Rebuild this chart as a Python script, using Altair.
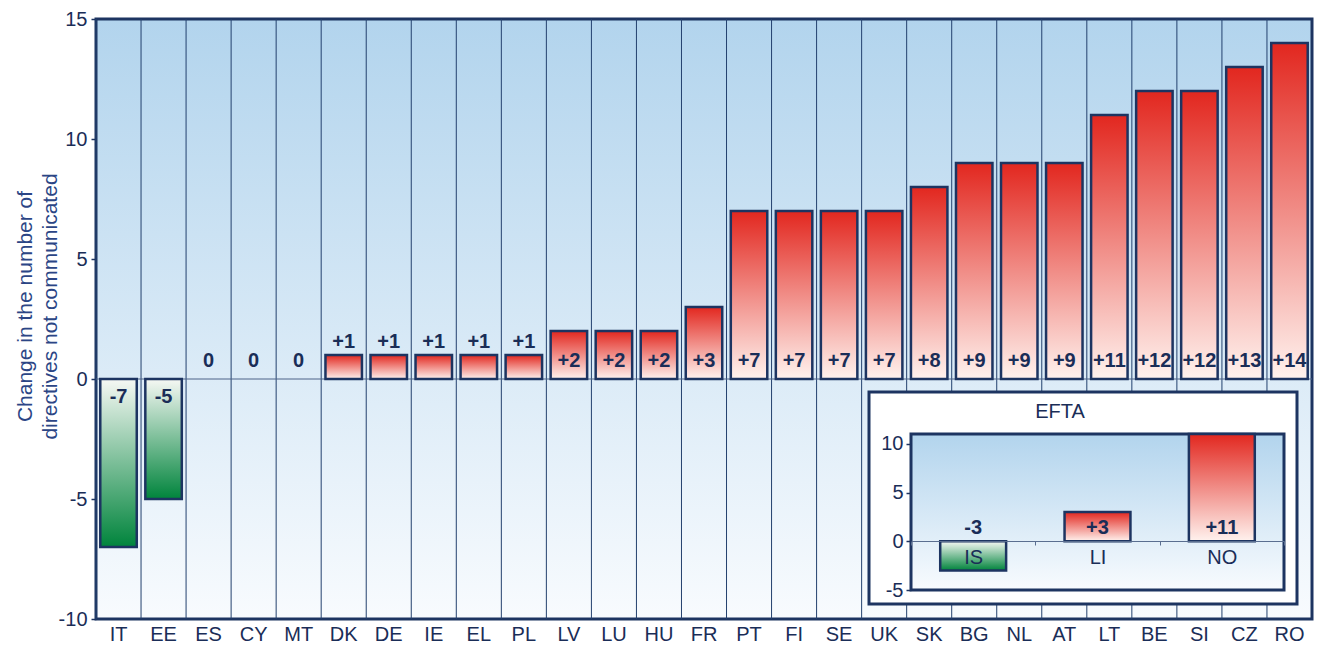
import altair as alt
import pandas as pd

countries = ["IT", "EE", "ES", "CY", "MT", "DK", "DE", "IE", "EL", "PL", "LV", "LU", "HU", "FR",
             "PT", "FI", "SE", "UK", "SK", "BG", "NL", "AT", "LT", "BE", "SI", "CZ", "RO"]
changes = [-7, -5, 0, 0, 0, 1, 1, 1, 1, 1, 2, 2, 2, 3, 7, 7, 7, 7, 8, 9, 9, 9, 11, 12, 12, 13, 14]
y_ticks = [-10, -5, 0, 5, 10, 15]

efta_countries = ["IS", "LI", "NO"]
efta_changes = [-3, 3, 11]
efta_ticks = [-5, 0, 5, 10]
efta_title = "EFTA"
y_title = ["Change in the number of", "directives not communicated"]

# layout (pixels)
W, H = 1216, 600
NAVY = "#1d3461"
TXT = "#1a2d57"
FONT = "Liberation Sans"
FS = 20

main_df = pd.DataFrame({"country": countries, "change": changes})
efta_df = pd.DataFrame({"country": efta_countries, "change": efta_changes})
one = pd.DataFrame({"k": [0]})


def vgrad(top, bottom):
    return alt.LinearGradient(
        gradient="linear", x1=0, y1=0, x2=0, y2=1,
        stops=[alt.GradientStop(color=top, offset=0), alt.GradientStop(color=bottom, offset=1)],
    )


bg_grad = vgrad("#b2d4ed", "#f8fbfe")
red_grad = vgrad("#e2271f", "#fff2ee")
green_grad = vgrad("#f6f8f4", "#00843c")

label_expr = "datum.change > 0 ? '+' + datum.change : '' + datum.change"
tick_expr = "'' + datum.value"

x_axis = alt.Axis(title=None, labelFontSize=FS, labelColor=TXT, labelFont=FONT, ticks=False,
                  domain=False, grid=False, labelPadding=5, labelAngle=0)
y_axis = alt.Axis(title=y_title, values=y_ticks, labelExpr=tick_expr, labelFontSize=FS, labelColor=TXT,
                  labelFont=FONT, tickSize=5, tickColor=NAVY, tickWidth=1.5, domain=False, grid=False,
                  labelPadding=4, titleFontSize=21, titleFont=FONT, titleFontWeight="normal",
                  titleColor="#2b4585", titleX=-61, titleY=287, titleLineHeight=25)

x_scale = alt.Scale(domain=countries, paddingInner=0, paddingOuter=0)
y_scale = alt.Scale(domain=[-10, 15], nice=False, zero=False)


def mx(**kw):
    return alt.X("country:N", sort=countries, scale=x_scale, axis=x_axis, **kw)


def my(field="change:Q"):
    return alt.Y(field, scale=y_scale, axis=y_axis)


background = alt.Chart(one).mark_rect(fill=bg_grad, stroke=NAVY, strokeWidth=3).encode(
    x=alt.value(0), x2=alt.value(W), y=alt.value(0), y2=alt.value(H)
)

grid = alt.Chart(main_df).mark_rule(color="#23406e", strokeWidth=1).encode(x=mx(bandPosition=0))

zero = alt.Chart(one).mark_rule(color="#4d6288", strokeWidth=1).encode(
    y=alt.Y(datum=0, scale=y_scale, axis=y_axis)
)

bars_pos = alt.Chart(main_df).transform_filter("datum.change > 0").mark_bar(
    width=alt.RelativeBandSize(0.81), fill=red_grad, stroke=NAVY, strokeWidth=2.5
).encode(x=mx(), y=my())

bars_neg = alt.Chart(main_df).transform_filter("datum.change < 0").mark_bar(
    width=alt.RelativeBandSize(0.81), fill=green_grad, stroke=NAVY, strokeWidth=2.5
).encode(x=mx(), y=my())

txt = dict(fontSize=FS, fontWeight="bold", color=TXT, font=FONT, baseline="middle", align="center")

labels_up = alt.Chart(main_df).transform_filter("datum.change >= 2 || datum.change == 0").transform_calculate(
    label=label_expr, base="0").mark_text(dy=-18, **txt).encode(x=mx(), y=my("base:Q"), text="label:N")

labels_one = alt.Chart(main_df).transform_filter("datum.change == 1").transform_calculate(
    label=label_expr).mark_text(dy=-13, **txt).encode(x=mx(), y=my(), text="label:N")

labels_neg = alt.Chart(main_df).transform_filter("datum.change < 0").transform_calculate(
    label=label_expr, base="0").mark_text(dy=18, **txt).encode(x=mx(), y=my("base:Q"), text="label:N")

main = alt.layer(background, grid, zero, bars_pos, bars_neg, labels_up, labels_one, labels_neg)

# ---------------- inset (EFTA) ----------------
ix0, ix1 = W - 401, W - 28
iy0, iy1 = H - 185, H - 29
ex_scale = alt.Scale(domain=efta_countries, range=[ix0, ix1], paddingInner=0, paddingOuter=0)
ey_scale = alt.Scale(domain=[-5, 11], range=[iy1, iy0], nice=False, zero=False)
zero_px = iy1 - 5 * (iy1 - iy0) / 16.0

ex_axis = alt.Axis(title=None, orient="bottom", offset=-round(H - zero_px), labelFontSize=FS,
                   labelColor=TXT, labelFont=FONT, labelAngle=0, tickBand="extent", tickSize=4,
                   tickColor="#5a6e90", domainColor="#5a6e90", domainWidth=1, labelPadding=2,
                   grid=False, zindex=1)
ey_axis = alt.Axis(title=None, orient="left", offset=-ix0, values=efta_ticks, labelExpr=tick_expr,
                   labelFontSize=FS, labelColor=TXT, labelFont=FONT, tickSize=5, tickColor=NAVY,
                   tickWidth=1.5, domain=False, grid=False, labelPadding=3, zindex=1)


def ex():
    return alt.X("country:N", sort=efta_countries, scale=ex_scale, axis=ex_axis)


def ey(field="change:Q"):
    return alt.Y(field, scale=ey_scale, axis=ey_axis)


box = alt.Chart(one).mark_rect(fill="white", stroke=NAVY, strokeWidth=3).encode(
    x=alt.value(W - 443), x2=alt.value(W - 15), y=alt.value(H - 227), y2=alt.value(H - 15)
)
title_txt = alt.Chart(one).mark_text(text=efta_title, fontSize=FS, color=TXT, font=FONT,
                                     align="center", baseline="middle").encode(
    x=alt.value(W - 252), y=alt.value(H - 207)
)
inner = alt.Chart(one).mark_rect(fill=bg_grad, stroke=NAVY, strokeWidth=3).encode(
    x=alt.value(ix0), x2=alt.value(ix1), y=alt.value(iy0), y2=alt.value(iy1)
)
ebars_pos = alt.Chart(efta_df).transform_filter("datum.change > 0").mark_bar(
    width=alt.RelativeBandSize(0.53), fill=red_grad, stroke=NAVY, strokeWidth=2.5
).encode(x=ex(), y=ey())
ebars_neg = alt.Chart(efta_df).transform_filter("datum.change < 0").mark_bar(
    width=alt.RelativeBandSize(0.53), fill=green_grad, stroke=NAVY, strokeWidth=2.5
).encode(x=ex(), y=ey())
elabels = alt.Chart(efta_df).transform_calculate(label=label_expr, base="0").mark_text(
    dy=-13, **txt).encode(x=ex(), y=ey("base:Q"), text="label:N")

inset = alt.layer(box, title_txt, inner, ebars_pos, ebars_neg, elabels)

chart = alt.layer(main, inset).resolve_scale(x="independent", y="independent").resolve_axis(
    x="independent", y="independent"
).properties(
    width=W, height=H, autosize=alt.AutoSizeParams(type="none"),
    padding={"left": 88, "top": 11, "right": 2, "bottom": 25},
).configure_view(stroke=None).configure(background="white")

chart.save("out.html", embed_options={"renderer": "svg", "actions": False})
